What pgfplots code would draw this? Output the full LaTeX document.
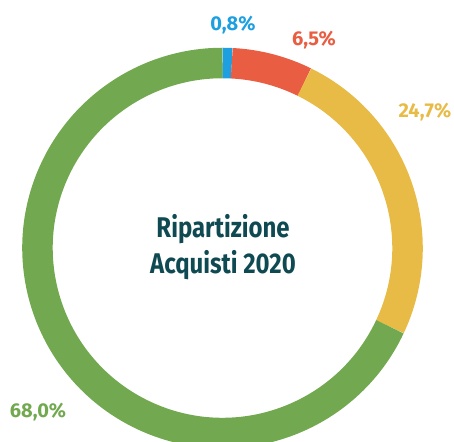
\documentclass[border=0pt]{standalone}
\usepackage{pgfplots}
\pgfplotsset{compat=1.18}
\usepackage{fontspec}
\setmainfont{Fira Sans}
\newfontfamily\condfont[FakeStretch=0.84]{Fira Sans}

\definecolor{cblue}{HTML}{1D9FE0}
\definecolor{cred}{HTML}{E95D42}
\definecolor{cyellow}{HTML}{E8BB47}
\definecolor{cgreen}{HTML}{72A950}
\definecolor{ctitle}{HTML}{0F4A52}

% shares (%), clockwise from the top
\def\pA{0.8}
\def\pB{6.5}
\def\pC{24.7}
\def\pD{68.0}

\begin{document}
\begin{tikzpicture}
\useasboundingbox (0,0) rectangle (454pt,441pt);
\clip (0,0) rectangle (454pt,441pt);
\pgfmathsetmacro\aA{90}
\pgfmathsetmacro\aB{\aA-3.6*\pA}
\pgfmathsetmacro\aC{\aB-3.6*\pB}
\pgfmathsetmacro\aD{\aC-3.6*\pC}
\pgfmathsetmacro\aE{\aD-3.6*\pD}
\begin{axis}[
    hide axis,
    scale only axis,
    width=454pt,
    height=441pt,
    xmin=0, xmax=454,
    ymin=0, ymax=441,
    clip=false,
]
\draw[cblue, line width=30.5pt]   ([shift={(\aA:185pt)}]axis cs:222.5,193) arc[start angle=\aA, end angle=\aB, radius=185pt];
\draw[cred, line width=30.5pt]    ([shift={(\aB:185pt)}]axis cs:222.5,193) arc[start angle=\aB, end angle=\aC, radius=185pt];
\draw[cyellow, line width=30.5pt] ([shift={(\aC:185pt)}]axis cs:222.5,193) arc[start angle=\aC, end angle=\aD, radius=185pt];
\draw[cgreen, line width=30.5pt]  ([shift={(\aD:185pt)}]axis cs:222.5,193) arc[start angle=\aD, end angle=\aE, radius=185pt];

\node[font=\fontsize{20}{24}\selectfont\bfseries, text=cblue]   at (axis cs:233,416) {0,8\%};
\node[font=\fontsize{20}{24}\selectfont\bfseries, text=cred]    at (axis cs:314,401) {6,5\%};
\node[font=\fontsize{20}{24}\selectfont\bfseries, text=cyellow] at (axis cs:425,329) {24,7\%};
\node[font=\fontsize{20}{24}\selectfont\bfseries, text=cgreen]  at (axis cs:38,29)   {68,0\%};

\node[font=\condfont\fontsize{28.5}{36}\selectfont\bfseries, text=ctitle, align=center] at (axis cs:223,194) {Ripartizione\\Acquisti 2020};
\end{axis}
\end{tikzpicture}
\end{document}
